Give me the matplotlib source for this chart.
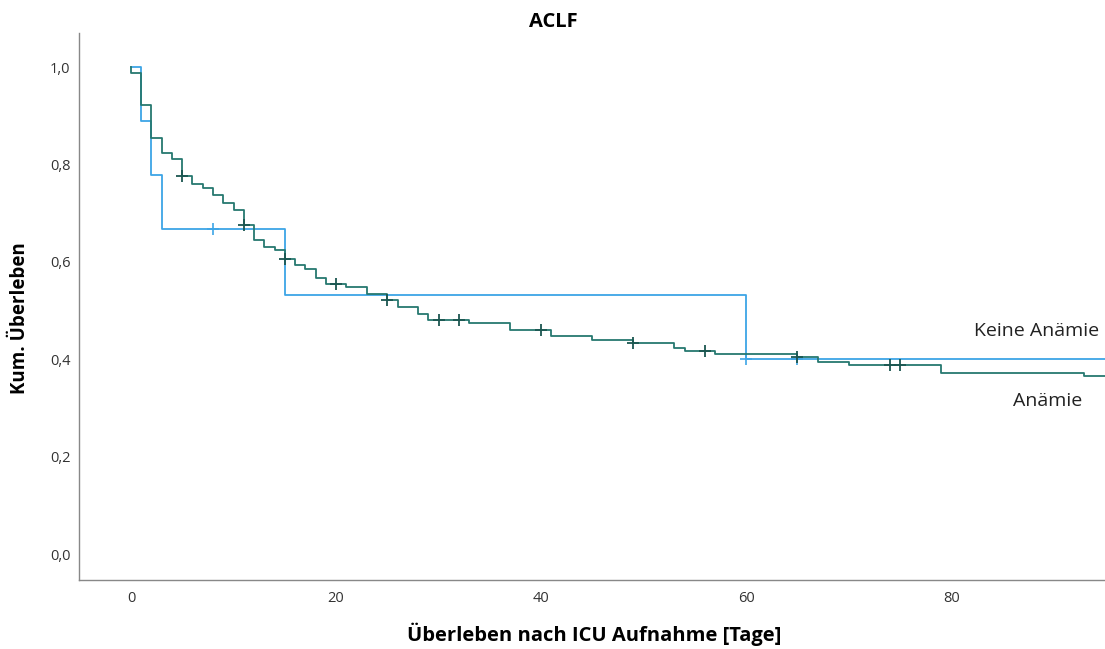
import numpy as np
import matplotlib
matplotlib.use('Agg')
import matplotlib.pyplot as plt

# ── Data ─────────────────────────────────────────────────────────
keine_times  = [0, 1, 2, 3, 15, 60, 95]
keine_surv   = [1.0, 0.889, 0.778, 0.667, 0.533, 0.400, 0.400]
keine_censor = [8, 60, 65]

anaemie_times = [0, 0, 1, 2, 3, 4, 5, 6, 7, 8, 9, 10, 11, 12, 13, 14,
                 15, 16, 17, 18, 19, 21, 23, 25, 26, 28, 29, 33, 37, 41,
                 45, 49, 53, 54, 57, 65, 67, 70, 79, 93, 95]
anaemie_surv  = [1.0, 0.987, 0.922, 0.855, 0.824, 0.812, 0.776, 0.759,
                 0.751, 0.737, 0.720, 0.706, 0.676, 0.646, 0.631, 0.624,
                 0.606, 0.593, 0.585, 0.566, 0.554, 0.548, 0.535, 0.522,
                 0.508, 0.494, 0.480, 0.475, 0.461, 0.448, 0.439, 0.433,
                 0.424, 0.418, 0.411, 0.404, 0.395, 0.388, 0.372, 0.366,
                 0.366]
anaemie_censor = [5, 11, 15, 20, 25, 30, 32, 40, 49, 56, 65, 74, 75]

x_ticks = [0, 20, 40, 60, 80]
y_ticks = [0.0, 0.2, 0.4, 0.6, 0.8, 1.0]

# ── Style ────────────────────────────────────────────────────────
BLUE  = '#3DA5E6'
GREEN = '#267870'
FONT  = ['Open Sans', 'DejaVu Sans']


def surv_at(times, surv, t):
    idx = np.searchsorted(times, t, side='right') - 1
    return np.asarray(surv)[idx]


fig = plt.figure(figsize=(11.05, 6.49), dpi=100)
ax = fig.add_axes([79 / 1105, 69 / 649, 1 - 79 / 1105, (580 - 33) / 649])

ax.step(keine_times, keine_surv, where='post', color=BLUE, lw=1.3)
ax.plot(keine_censor, surv_at(keine_times, keine_surv, keine_censor),
        '+', color=BLUE, ms=9, mew=1.2)

ax.step(anaemie_times, anaemie_surv, where='post', color=GREEN, lw=1.3)
ax.plot(anaemie_censor,
        surv_at(anaemie_times, anaemie_surv, anaemie_censor),
        '+', color='#1B5650', ms=9, mew=1.3)

ax.set_xlim(-5.07, 95)
ax.set_ylim(-0.053, 1.07)
ax.set_xticks(x_ticks)
ax.set_xticklabels([str(t) for t in x_ticks], family=FONT, fontsize=10.5,
                   color='#333333')
ax.set_yticks(y_ticks)
ax.set_yticklabels([f'{v:.1f}'.replace('.', ',') for v in y_ticks],
                   family=FONT, fontsize=10.5, color='#333333')
ax.tick_params(axis='y', length=0, pad=6)
ax.tick_params(axis='x', length=0, pad=8)

for side in ('top', 'right'):
    ax.spines[side].set_visible(False)
for side in ('left', 'bottom'):
    ax.spines[side].set_edgecolor('#888888')
    ax.spines[side].set_linewidth(1.0)

ax.text(88.3, 0.459, 'Keine Anämie', ha='center', va='center',
        family=FONT, fontsize=14, color='#222222')
ax.text(89.4, 0.315, 'Anämie', ha='center', va='center',
        family=FONT, fontsize=14, color='#222222')

fig.text(553 / 1105, 1 - 22 / 649, 'ACLF', ha='center', va='center',
         family=FONT, fontsize=14.5, fontweight='bold')
fig.text(594 / 1105, 1 - 634 / 649, 'Überleben nach ICU Aufnahme [Tage]',
         ha='center', va='center', family=FONT, fontsize=14.5,
         fontweight='bold')
fig.text(20 / 1105, 1 - 318 / 649, 'Kum. Überleben', ha='center',
         va='center', rotation=90, family=FONT, fontsize=13.5,
         fontweight='bold')

fig.savefig('out.png', dpi=100, facecolor='white')
